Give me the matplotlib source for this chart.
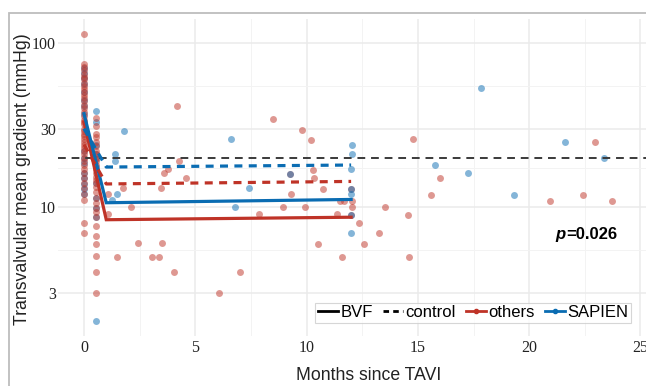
import numpy as np
import matplotlib
matplotlib.use("Agg")
import matplotlib.pyplot as plt
from matplotlib.lines import Line2D
from matplotlib.patches import Rectangle
from matplotlib.ticker import FixedLocator

# ── Data ──────────────────────────────────────────────────────────────────────
others_x0 = [113, 74, 71, 68, 65, 62, 60, 57, 55, 52, 50, 48, 46, 44, 42, 40, 38,
             36, 34, 33, 32, 30, 29, 28, 27, 26, 25, 24, 23, 22, 21, 20, 19, 18,
             17, 16, 15, 14, 13, 12, 11, 8.0, 6.9]
sapien_x0 = [70, 66, 61, 56, 50, 45, 41, 37, 22, 20, 18.5, 16, 15, 13.8, 12.8, 12]

others_x05 = [35, 31, 28, 26.5, 25, 23.5, 22, 21, 20, 19, 18, 17, 16, 15.3, 14.5,
              14, 13.2, 12.4, 11.4, 10.6, 9.9, 9.3, 8.7, 7.6, 6.6, 5.9, 5.0, 4.0, 3.0]
sapien_x05 = [38.6, 33, 24, 21, 19.5, 17.5, 14, 11.4, 9.9, 8.7, 2.0]

others_fu_x = [1.09, 1.09, 1.5, 1.74, 2.11, 2.44, 3.04, 3.37, 3.46, 3.49, 3.59, 3.79,
               4.04, 4.19, 4.27, 4.58, 6.06, 7.0, 7.86, 8.49, 8.92, 9.25, 9.3, 9.79,
               9.93, 10.18, 10.3, 10.35, 10.53, 10.75, 11.35, 11.5, 11.58, 11.7, 12.0,
               12.0, 12.03, 12.05, 12.36, 12.59, 13.25, 13.52, 14.57, 14.6, 14.77,
               15.57, 15.99, 20.93, 22.4, 22.96, 23.7]
others_fu_y = [12.0, 9.06, 4.98, 13.0, 9.96, 6.01, 4.98, 4.98, 13.0, 6.01, 16.0, 17.0,
               3.98, 41.3, 19.1, 15.1, 3.0, 4.0, 9.06, 34.4, 9.96, 15.9, 12.0, 29.5,
               9.96, 25.6, 16.8, 15.0, 5.94, 12.9, 9.06, 10.9, 4.98, 10.9, 12.9,
               8.9, 9.96, 10.9, 7.95, 5.94, 6.97, 9.96, 8.93, 4.98, 26.0,
               11.9, 15.0, 10.9, 11.9, 25.0, 10.9]

sapien_fu_x = [1.24, 1.39, 1.39, 1.5, 1.81, 6.6, 6.8, 7.41, 9.25, 12.03, 12.03, 12.0,
               12.0, 12.0, 12.0, 12.0, 15.77, 17.24, 17.84, 19.32, 21.6, 23.37]
sapien_fu_y = [11.0, 21.0, 19.1, 12.0, 29.2, 26.0, 10.0, 13.0, 15.9, 23.9, 20.9, 17.0,
               12.9, 12.0, 8.9, 6.97, 17.9, 16.0, 53.0, 11.9, 25.0, 20.0]

# model lines (time points 0, 1, 12 months)
line_x = [0, 1, 12]
bvf_others = [33, 8.35, 8.65]
bvf_sapien = [37, 10.6, 11.1]
control_others = [24, 13.8, 14.3]
control_sapien = [30, 17.5, 18.0]

ref_level = 20
p_text = "=0.026"

RED = "#bf3327"
BLUE = "#0a6cb2"
SANS = ["Liberation Sans", "DejaVu Sans"]
SERIF = ["Liberation Serif", "DejaVu Serif"]

# ── Figure ────────────────────────────────────────────────────────────────────
W, H = 646, 386
fig = plt.figure(figsize=(W / 100, H / 100), dpi=100)
ax = fig.add_axes([58 / W, 1 - 336 / H, (680 - 58) / W, (336 - 19) / H])

# outer frame (cropped on right/bottom)
fig.patches.append(Rectangle((9 / W, -0.2), 1.2, 1.2 - 13 / H,
                             transform=fig.transFigure, fill=False,
                             edgecolor="#bdbdbd", lw=1.3))

def scat(xs, ys, c):
    ax.scatter(xs, ys, s=25, color=c, alpha=0.5, lw=0, zorder=2)

scat([0] * len(sapien_x0), sapien_x0, BLUE)
scat([0] * len(others_x0), others_x0, RED)
scat([0.52] * len(sapien_x05), sapien_x05, BLUE)
scat([0.52] * len(others_x05), others_x05, RED)
scat(others_fu_x, others_fu_y, RED)
scat(sapien_fu_x, sapien_fu_y, BLUE)

ax.axhline(ref_level, color="#3a3a3a", lw=1.4, ls=(0, (4, 3)), zorder=3)

ax.plot(line_x, bvf_others, color=RED, lw=2.3, zorder=4, solid_joinstyle="miter")
ax.plot(line_x, bvf_sapien, color=BLUE, lw=2.3, zorder=4, solid_joinstyle="miter")
ax.plot(line_x, control_others, color=RED, lw=2.3, ls=(0, (2.5, 2)), zorder=4)
ax.plot(line_x, control_sapien, color=BLUE, lw=2.3, ls=(0, (2.5, 2)), zorder=4)

# axes / scales
ax.set_yscale("log")
ax.set_xlim(-1.168, (680 - 84) / 22.26)
ax.set_ylim(10 ** 0.2125, 10 ** 2.146)
ax.set_xticks([0, 5, 10, 15, 20, 25])
ax.xaxis.set_minor_locator(FixedLocator([2.5, 7.5, 12.5, 17.5, 22.5]))
ax.set_yticks([3, 10, 30, 100])
ax.set_yticklabels(["3", "10", "30", "100"])
ax.yaxis.set_minor_locator(FixedLocator([10 ** 0.2155, 10 ** 0.7386, 10 ** 1.2386, 10 ** 1.7386]))
ax.yaxis.set_minor_formatter(plt.NullFormatter())
ax.grid(True, which="major", color="#ebebeb", lw=1.1, zorder=0)
ax.grid(True, which="minor", color="#f3f3f3", lw=0.7, zorder=0)
ax.set_axisbelow(True)
for s in ax.spines.values():
    s.set_visible(False)
ax.tick_params(which="both", length=0)
ax.tick_params(axis="y", pad=1.5)
ax.tick_params(axis="x", pad=3)
for lab in ax.get_xticklabels() + ax.get_yticklabels():
    lab.set_family(SERIF)
    lab.set_fontsize(11.5)
    lab.set_color("#222222")

fig.text(369 / W, 1 - 375 / H, "Months since TAVI", ha="center", va="center",
         family=SANS, fontsize=12.7, color="#222222")
fig.text(23 / W, 1 - 179.5 / H, "Transvalvular mean gradient (mmHg)", ha="center",
         va="center", rotation=90, family=SANS, fontsize=12.7, color="#222222")

# p-value
ax.text(21.65, 6.8, "p", ha="right", va="center", family=SANS, fontsize=12,
        fontweight="bold", style="italic")
ax.text(21.65, 6.8, p_text, ha="left", va="center", family=SANS, fontsize=12,
        fontweight="bold")

# legend
handles = [
    Line2D([], [], color="black", lw=2),
    Line2D([], [], color="black", lw=2, ls=(0, (2, 1.5))),
    Line2D([], [], color=RED, lw=2, marker="o", ms=3),
    Line2D([], [], color=BLUE, lw=2, marker="o", ms=3),
]
leg = fig.legend(handles, ["BVF", "control", "others", "SAPIEN"], ncol=4,
                 loc="center", bbox_to_anchor=(473 / W, 1 - 312.5 / H),
                 bbox_transform=fig.transFigure, frameon=True, fancybox=False,
                 handlelength=1.2, handletextpad=0.15, columnspacing=0.6,
                 borderpad=0.15, borderaxespad=0, prop={"family": SANS, "size": 12})
leg.get_frame().set_edgecolor("#cccccc")
leg.get_frame().set_linewidth(0.8)

fig.savefig("out.png", dpi=100)
